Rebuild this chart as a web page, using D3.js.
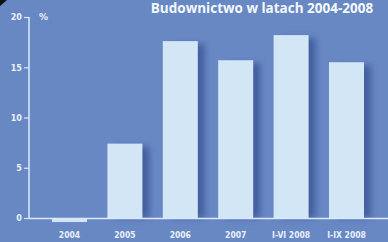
<!DOCTYPE html>
<html><head><meta charset="utf-8">
<script src="https://cdn.jsdelivr.net/npm/d3@7/dist/d3.min.js"></script>
<style>html,body{margin:0;padding:0;background:#6888c4;overflow:hidden}</style>
</head><body><svg id="c" width="388" height="242"></svg>
<script>
const categories = ["2004","2005","2006","2007","I-VI 2008","I-IX 2008"];
const values = [-0.2, 7.4, 17.6, 15.7, 18.2, 15.5];
const yTicks = [0,5,10,15,20];
const title = "Budownictwo w latach 2004-2008";

const svg = d3.select("#c");
const W = 388, H = 242;
const m = {left:29, right:0, top:17, bottom:24};
svg.append("rect").attr("width",W).attr("height",H).attr("fill","#6888c4");

const defs = svg.append("defs");
const f = defs.append("filter").attr("id","sh").attr("x","-50%").attr("width","200%");
f.append("feGaussianBlur").attr("stdDeviation",3);

const x = d3.scaleBand().domain(categories).range([52, 364]).paddingInner(0.368).paddingOuter(0);
const y = d3.scaleLinear().domain([0,20]).range([H-m.bottom, m.top]);

const g = svg.append("g");
const data = categories.map((c,i)=>({c, v: values[i]}));
// shadows
g.selectAll(".s").data(data.filter(d=>d.v>0)).enter().append("rect")
 .attr("x",d=>x(d.c)+7).attr("width",x.bandwidth())
 .attr("y",d=>y(d.v)+3).attr("height",d=>y(0)-y(d.v)-3)
 .attr("fill","#3d5997").attr("opacity",0.85).attr("filter","url(#sh)");
// bars
g.selectAll(".b").data(data).enter().append("rect")
 .attr("x",d=>x(d.c)).attr("width",x.bandwidth())
 .attr("y",d=>d.v>=0? y(d.v) : y(0)+1)
 .attr("height",d=>d.v>=0? y(0)-y(d.v) : Math.max(2, y(d.v)-y(0)+1))
 .attr("fill","#d3e6f6");

// axes
const ya = d3.axisLeft(y).tickValues(yTicks).tickSize(5).tickPadding(2);
const yg = svg.append("g").attr("transform",`translate(${m.left},0)`).call(ya);
yg.select(".domain").attr("stroke","#dce8f8").attr("stroke-width",1.5).attr("d",`M0,${y(20)}V${y(0)+0.5}`);
yg.selectAll(".tick line").attr("stroke","#dce8f8").attr("stroke-width",1.2);
yg.selectAll("text").attr("fill","#e8f0fb").attr("font-family","DejaVu Sans Condensed, DejaVu Sans").attr("font-weight","bold").attr("font-size",9);

const xa = d3.axisBottom(x).tickSize(0).tickPadding(14);
const xg = svg.append("g").attr("transform",`translate(0,${y(0)})`).call(xa);
xg.select(".domain").attr("stroke","#dce8f8").attr("stroke-width",1.5).attr("d",`M${m.left},0.5H${W}`);
xg.selectAll("text").attr("fill","#e8f0fb").attr("font-family","DejaVu Sans Condensed, DejaVu Sans").attr("font-weight","bold").attr("font-size",8.5);

svg.append("text").attr("x",m.left+10).attr("y",y(20)+3).text("%")
 .attr("fill","#e8f0fb").attr("font-family","DejaVu Sans").attr("font-weight","bold").attr("font-size",9);

svg.append("text").attr("x",262).attr("y",13).attr("text-anchor","middle").text(title)
 .attr("fill","#f4f8fd").attr("font-family","Open Sans, DejaVu Sans").attr("font-weight","bold").attr("font-size",13.5);

svg.append("path").attr("d","M0,0H7L0,6Z").attr("fill","#111");
</script></body></html>
